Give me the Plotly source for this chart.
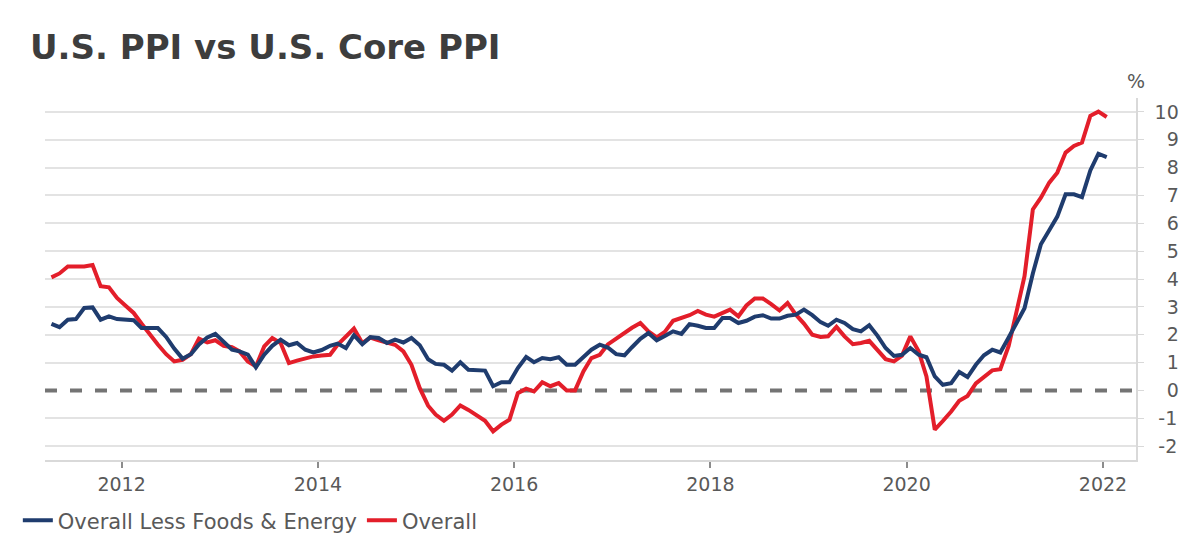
import pandas as pd
import plotly.graph_objects as go

# monthly YoY % change, Apr 2011 - Jan 2022
months = pd.date_range("2011-04-01", periods=130, freq="MS") + pd.Timedelta(days=14)

overall = [
    4.06, 4.2, 4.45, 4.45, 4.45, 4.5, 3.74, 3.7, 3.32, 3.05,
    2.78, 2.4, 2.0, 1.65, 1.3, 1.04, 1.1, 1.3, 1.86, 1.72,
    1.8, 1.6, 1.55, 1.4, 1.04, 0.86, 1.58, 1.88, 1.7, 0.98,
    1.07, 1.15, 1.22, 1.25, 1.28, 1.64, 1.94, 2.22, 1.7, 1.9,
    1.8, 1.7, 1.64, 1.4, 0.92, 0.08, -0.55, -0.87, -1.09, -0.87,
    -0.54, -0.7, -0.9, -1.09, -1.47, -1.23, -1.05, -0.1, 0.06, -0.04,
    0.29, 0.15, 0.26, 0.0, 0.0, 0.68, 1.16, 1.28, 1.65, 1.86,
    2.05, 2.25, 2.42, 2.12, 1.9, 2.1, 2.5, 2.6, 2.7, 2.85,
    2.72, 2.65, 2.8, 2.9, 2.66, 3.05, 3.3, 3.3, 3.1, 2.87,
    3.14, 2.72, 2.4, 2.0, 1.92, 1.94, 2.28, 1.94, 1.66, 1.7,
    1.78, 1.42, 1.12, 1.04, 1.25, 1.94, 1.4, 0.5, -1.41, -1.1,
    -0.76, -0.37, -0.2, 0.25, 0.5, 0.72, 0.76, 1.6, 2.9, 4.1,
    6.5, 6.92, 7.46, 7.82, 8.54, 8.78, 8.9, 9.86, 10.01, 9.82,
]

core = [
    2.39, 2.27, 2.54, 2.56, 2.96, 2.98, 2.54, 2.66, 2.56, 2.54,
    2.52, 2.24, 2.24, 2.24, 1.92, 1.5, 1.14, 1.3, 1.65, 1.9,
    2.03, 1.76, 1.46, 1.4, 1.28, 0.83, 1.28, 1.6, 1.82, 1.62,
    1.7, 1.46, 1.36, 1.45, 1.6, 1.68, 1.52, 1.98, 1.66, 1.91,
    1.88, 1.7, 1.82, 1.72, 1.88, 1.62, 1.12, 0.95, 0.92, 0.71,
    1.01, 0.74, 0.74, 0.71, 0.15, 0.29, 0.29, 0.8, 1.2, 1.01,
    1.16, 1.12, 1.19, 0.92, 0.92, 1.22, 1.46, 1.64, 1.54, 1.3,
    1.26, 1.55, 1.85, 2.06, 1.8, 1.95, 2.12, 2.03, 2.38, 2.32,
    2.24, 2.24, 2.6, 2.6, 2.42, 2.5, 2.65, 2.7, 2.58, 2.58,
    2.68, 2.72, 2.9, 2.7, 2.45, 2.32, 2.54, 2.42, 2.2, 2.12,
    2.34, 1.96, 1.52, 1.24, 1.28, 1.52, 1.28, 1.19, 0.5, 0.2,
    0.26, 0.66, 0.48, 0.92, 1.26, 1.46, 1.36, 1.9, 2.45, 2.95,
    4.2, 5.25, 5.75, 6.24, 7.04, 7.04, 6.94, 7.9, 8.5, 8.38,
]

y_ticks = list(range(-2, 11))
# pad so the right-hand labels line up on their right edge
y_ticktext = [("\u2009" + str(v)) if v < 0 else (str(v) if v >= 10 else "\u2007" + str(v)) for v in y_ticks]
grid_vals = [v for v in y_ticks if v != 0]  # zero gets the dashed line instead
x_ticks = ["2012-01-01", "2014-01-01", "2016-01-01", "2018-01-01", "2020-01-01", "2022-01-01"]
x_ticktext = ["2012", "2014", "2016", "2018", "2020", "2022"]

BLUE = "#1f3c6e"
RED = "#e31e2a"
font = "DejaVu Sans, Verdana, sans-serif"

fig = go.Figure()
fig.add_trace(go.Scatter(x=months, y=overall, mode="lines", name="Overall",
                         line=dict(color=RED, width=4)))
fig.add_trace(go.Scatter(x=months, y=core, mode="lines", name="Overall Less Foods & Energy",
                         line=dict(color=BLUE, width=4)))

# dashed zero line
fig.add_shape(type="line", xref="paper", x0=0, x1=1, yref="y", y0=0, y1=0,
              line=dict(color="#747474", width=4, dash="12px,13px"), layer="between")

fig.add_annotation(text="%", xref="paper", yref="paper", x=1.0, y=1.0,
                   xanchor="center", yanchor="bottom", yshift=4, showarrow=False,
                   font=dict(family=font, size=19, color="#595959"))

# page body adds 8px on top/left, so margins are shifted to compensate
fig.update_layout(
    width=1200, height=542,
    margin=dict(l=37, r=72, t=90, b=90, autoexpand=False),
    paper_bgcolor="white", plot_bgcolor="white",
    font=dict(family=font, color="#595959", size=19),
    title=dict(text="<b>U.S. PPI vs U.S. Core PPI</b>", x=0.0183, xanchor="left",
               y=0.928, yanchor="middle", yref="container",
               font=dict(family=font, size=34, color="#3d3d3d")),
    showlegend=True,
    legend=dict(orientation="h", x=-0.0249, xanchor="left", y=-0.111, yanchor="top",
                traceorder="reversed", font=dict(size=21, color="#595959"),
                itemwidth=30, tracegroupgap=0),
    xaxis=dict(range=["2011-03-22", "2022-05-04"], tickvals=x_ticks, ticktext=x_ticktext,
               showgrid=False, showline=True, linecolor="#d9d9d9", linewidth=1.5,
               ticks="outside", ticklen=6, tickcolor="#8c8c8c", tickwidth=1.5,
               zeroline=False),
    yaxis=dict(side="right", range=[-2.5, 10.5], tickvals=y_ticks, ticktext=y_ticktext,
               showgrid=False,
               minor=dict(tickvals=grid_vals, showgrid=True, gridcolor="#e3e3e3",
                          gridwidth=1.5, ticks=""),
               showline=True, linecolor="#d9d9d9", linewidth=1.5,
               ticks="outside", ticklen=6, tickcolor="#d9d9d9",
               ticklabelstandoff=7, zeroline=False),
)

fig.write_html("out.html")
